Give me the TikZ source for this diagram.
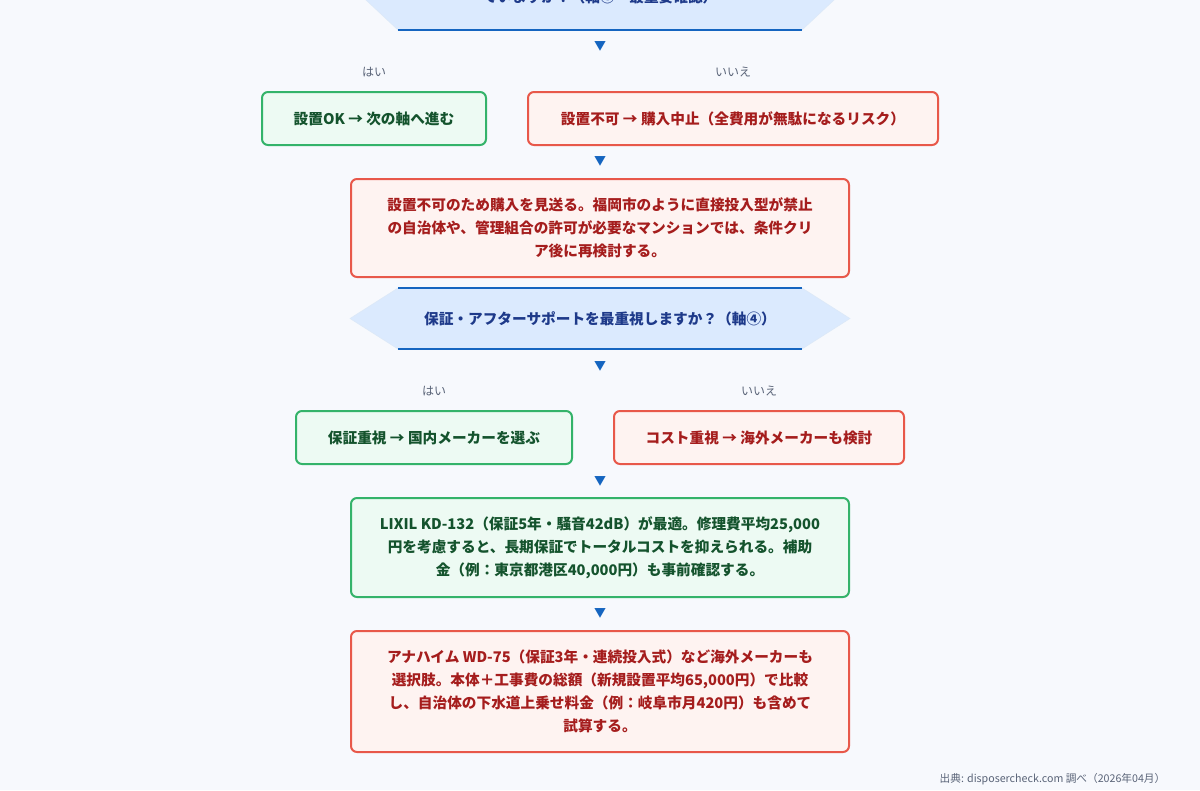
\documentclass[tikz,border=0pt]{standalone}
\usepackage{fontspec}
\setmainfont{Noto Sans CJK JP}
\usetikzlibrary{positioning,calc,shapes.geometric}
\definecolor{bgc}{HTML}{F7F9FD}
\definecolor{hexfill}{HTML}{DBEAFE}
\definecolor{hexline}{HTML}{1565C0}
\definecolor{hextext}{HTML}{1E3A8A}
\definecolor{okfill}{HTML}{EDFAF3}
\definecolor{okline}{HTML}{34B36A}
\definecolor{oktext}{HTML}{14532D}
\definecolor{ngfill}{HTML}{FEF3F1}
\definecolor{ngline}{HTML}{E8584A}
\definecolor{ngtext}{HTML}{A51D1D}
\definecolor{lbl}{HTML}{5A6478}
\tikzset{
	box/.style={rounded corners=6*0.75pt, line width=1.5pt, align=center, font=\bfseries\fontsize{11}{17.3}\selectfont, inner sep=0pt},
	okbox/.style={box, draw=okline, fill=okfill, text=oktext},
	ngbox/.style={box, draw=ngline, fill=ngfill, text=ngtext},
	ans/.style={text=lbl, font=\fontsize{9}{10}\selectfont},
	tri/.style={text=hexline, font=\fontsize{9}{10}\selectfont},
	hextxt/.style={text=hextext, font=\bfseries\fontsize{11}{17}\selectfont, minimum height=61*0.75pt},
}
\begin{document}
\begin{tikzpicture}[x=0.75pt,y=-0.75pt]
	\fill [bgc] (0,0) rectangle (1200,790);
	\useasboundingbox (0,0) rectangle (1200,790);
	% top decision (cut off)
	\fill [hexfill,draw=hexfill!60!hexline!30] (398,-60) -- (802,-60) -- (850,-15) -- (802,30) -- (398,30) -- (350,-15) -- cycle;
	\draw [hexline,line width=1.5pt] (398,30) -- (802,30);
	\node [hextxt] (hexA) at (600,-3) {ていますか？（軸①・最重要確認）};
	\node [tri] (t1) at (600,46) {▼};
	\node [ans] (y1) at (374,72) {はい};
	\node [ans] (n1) at (733,72) {いいえ};
	\node [okbox, minimum width=224*0.75pt, minimum height=53*0.75pt] (ok1) at (374,118.5) {設置OK → 次の軸へ進む};
	\node [ngbox, minimum width=410*0.75pt, minimum height=53*0.75pt] (ng1) at (733,118.5) {設置不可 → 購入中止（全費用が無駄になるリスク）};
	\node [tri] (t2) at (600,161) {▼};
	\node [ngbox, minimum width=498*0.75pt, minimum height=98*0.75pt] (ng2) at (600,228) {設置不可のため購入を見送る。福岡市のように直接投入型が禁止\\の自治体や、管理組合の許可が必要なマンションでは、条件クリ\\ア後に再検討する。};
	% second decision
	\coordinate (hexB) at (600,318.5);
	\fill [hexfill,draw=hexfill!60!hexline!30] (398,288) -- (802,288) -- (850,318.5) -- (802,349) -- (398,349) -- (350,318.5) -- cycle;
	\draw [hexline,line width=1.5pt] (398,288) -- (802,288) (398,349) -- (802,349);
	\node [hextxt] (hexBt) at (hexB) {保証・アフターサポートを最重視しますか？（軸④）};
	\node [tri] (t3) at (600,366) {▼};
	\node [ans] (y2) at (434,391) {はい};
	\node [ans] (n2) at (759,391) {いいえ};
	\node [okbox, minimum width=276*0.75pt, minimum height=53*0.75pt] (ok2) at (434,437.5) {保証重視 → 国内メーカーを選ぶ};
	\node [ngbox, minimum width=290*0.75pt, minimum height=53*0.75pt] (ng3) at (759,437.5) {コスト重視 → 海外メーカーも検討};
	\node [tri] (t4) at (600,481) {▼};
	\node [okbox, minimum width=498*0.75pt, minimum height=99*0.75pt] (ok3) at (600,547.5) {LIXIL KD-132（保証5年・騒音42dB）が最適。修理費平均25,000\\円を考慮すると、長期保証でトータルコストを抑えられる。補助\\金（例：東京都港区40,000円）も事前確認する。};
	\node [tri] (t5) at (600,613) {▼};
	\node [ngbox, minimum width=498*0.75pt, minimum height=121*0.75pt] (ng4) at (600,691.5) {アナハイム WD-75（保証3年・連続投入式）など海外メーカーも\\選択肢。本体＋工事費の総額（新規設置平均65,000円）で比較\\し、自治体の下水道上乗せ料金（例：岐阜市月420円）も含めて\\試算する。};
	\node [ans, font=\fontsize{8}{9}\selectfont, anchor=east] (src) at (1170,779) {出典: disposercheck.com 調べ（2026年04月）};
\end{tikzpicture}
\end{document}
